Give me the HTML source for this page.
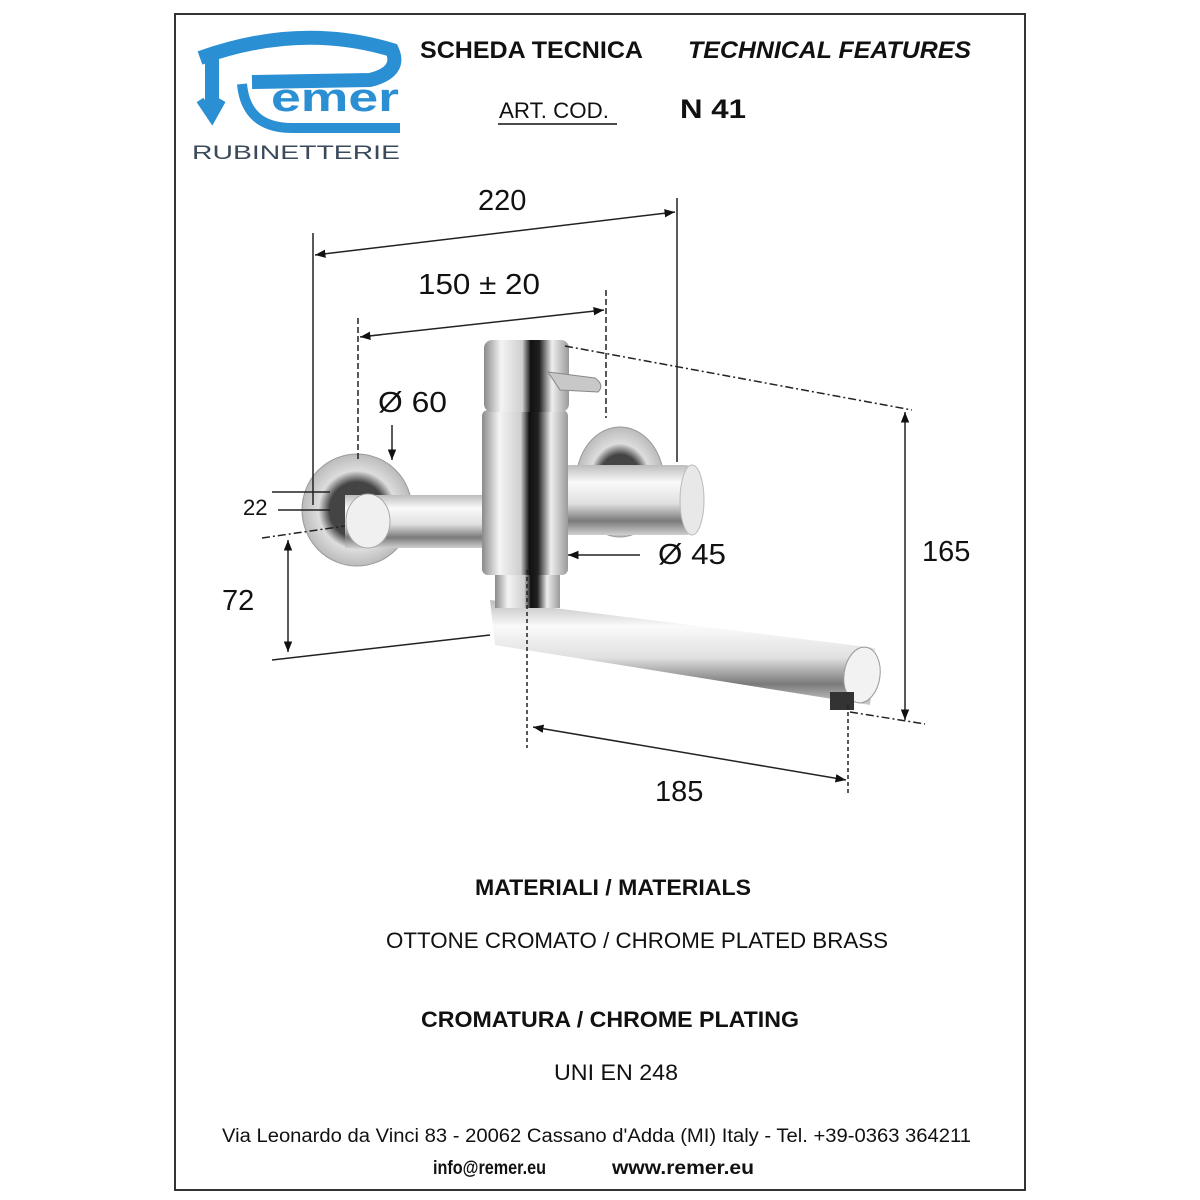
<!DOCTYPE html>
<html><head><meta charset="utf-8"><style>
html,body{margin:0;padding:0;background:#fff;}
svg{display:block;}
.c{font-family:"Liberation Sans",sans-serif;}
</style></head><body>
<svg width="1200" height="1200" viewBox="0 0 1200 1200" xmlns="http://www.w3.org/2000/svg" class="c">
<defs>
<linearGradient id="gv" x1="0" y1="0" x2="1" y2="0">
<stop offset="0" stop-color="#8a8a8a"/><stop offset="0.2" stop-color="#f4f4f4"/><stop offset="0.45" stop-color="#cfcfcf"/><stop offset="0.55" stop-color="#111"/><stop offset="0.65" stop-color="#202020"/><stop offset="0.8" stop-color="#eee"/><stop offset="1" stop-color="#9a9a9a"/>
</linearGradient>
<linearGradient id="gh" x1="0" y1="0" x2="0" y2="1">
<stop offset="0" stop-color="#bdbdbd"/><stop offset="0.25" stop-color="#fafafa"/><stop offset="0.55" stop-color="#e0e0e0"/><stop offset="0.8" stop-color="#7a7a7a"/><stop offset="1" stop-color="#cfcfcf"/>
</linearGradient>
<radialGradient id="gf" cx="0.5" cy="0.5" r="0.5">
<stop offset="0.5" stop-color="#444"/><stop offset="0.7" stop-color="#ddd"/><stop offset="1" stop-color="#bbb"/>
</radialGradient>
<marker id="a" viewBox="0 0 10 10" refX="10" refY="5" markerWidth="7" markerHeight="7" orient="auto-start-reverse"><path d="M0,1 L10,5 L0,9 z" fill="#111"/></marker>
</defs>
<rect x="175" y="14" width="850" height="1176" fill="none" stroke="#333" stroke-width="2"/>

<!-- logo -->
<g fill="none" stroke="#2b8fd4" stroke-linecap="butt">
<path d="M200,58 Q300,22 392,50 Q402,72 370,80 L252,82" stroke-width="14"/>
<path d="M212,58 L212,112" stroke-width="14"/>
<path d="M200,100 L212,118 L222,100" stroke-width="8"/>
<path d="M242,84 Q246,128 292,128 L400,128" stroke-width="10"/>
</g>
<text x="271" y="111" font-size="40" font-weight="bold" fill="#2b8fd4" textLength="128" lengthAdjust="spacingAndGlyphs">emer</text>
<text x="192" y="159" font-size="19" fill="#3a4a5a" textLength="208" lengthAdjust="spacingAndGlyphs">RUBINETTERIE</text>

<!-- header -->
<text x="420" y="58" font-size="24" font-weight="bold" fill="#111" textLength="223" lengthAdjust="spacingAndGlyphs">SCHEDA TECNICA</text>
<text x="688" y="58" font-size="24" font-weight="bold" font-style="italic" fill="#111" textLength="283" lengthAdjust="spacingAndGlyphs">TECHNICAL FEATURES</text>
<text x="499" y="118" font-size="22" fill="#111" textLength="110" lengthAdjust="spacingAndGlyphs">ART. COD.</text>
<line x1="498" y1="124" x2="617" y2="124" stroke="#111" stroke-width="1.5"/>
<text x="680" y="118" font-size="27" font-weight="bold" fill="#111" textLength="66" lengthAdjust="spacingAndGlyphs">N 41</text>

<!-- faucet -->
<g>
<ellipse cx="357" cy="510" rx="55" ry="56" fill="url(#gf)" stroke="#999"/>
<ellipse cx="620" cy="482" rx="44" ry="55" fill="url(#gf)" stroke="#999"/>
<rect x="560" y="465" width="135" height="70" rx="10" fill="url(#gh)"/>
<ellipse cx="692" cy="500" rx="12" ry="35" fill="#e8e8e8" stroke="#bbb"/>
<rect x="345" y="495" width="165" height="53" fill="url(#gh)"/>
<ellipse cx="368" cy="521" rx="22" ry="27" fill="#f0f0f0" stroke="#aaa"/>
<path d="M490,600 L875,648 L870,705 L495,645 Z" fill="url(#gh)"/>
<ellipse cx="862" cy="675" rx="18" ry="28" fill="#f2f2f2" stroke="#999" transform="rotate(8 862 675)"/>
<rect x="830" y="692" width="24" height="18" fill="#333"/>
<rect x="495" y="570" width="65" height="38" fill="url(#gv)"/>
<rect x="482" y="410" width="86" height="165" rx="6" fill="url(#gv)"/>
<rect x="484" y="340" width="85" height="72" rx="8" fill="url(#gv)"/>
<path d="M548,372 L595,378 Q605,385 598,392 L560,390 Z" fill="#c8c8c8" stroke="#888"/>
</g>

<!-- dimensions -->
<g stroke="#222" stroke-width="1.5" fill="none">
<line x1="313" y1="233" x2="313" y2="505"/>
<line x1="677" y1="198" x2="677" y2="462"/>
<line x1="315" y1="255" x2="675" y2="212" marker-start="url(#a)" marker-end="url(#a)"/>
<line x1="358" y1="318" x2="358" y2="462" stroke-dasharray="6,3"/>
<line x1="606" y1="290" x2="606" y2="418" stroke-dasharray="6,3"/>
<line x1="360" y1="337" x2="604" y2="310" marker-start="url(#a)" marker-end="url(#a)"/>
<line x1="392" y1="425" x2="392" y2="460" marker-end="url(#a)"/>
<line x1="272" y1="492" x2="330" y2="492"/>
<line x1="278" y1="510" x2="330" y2="510"/>
<line x1="262" y1="538" x2="345" y2="526" stroke-dasharray="8,3,2,3"/>
<line x1="288" y1="540" x2="288" y2="652" marker-start="url(#a)" marker-end="url(#a)"/>
<line x1="272" y1="660" x2="490" y2="635"/>
<line x1="640" y1="555" x2="568" y2="555" marker-end="url(#a)"/>
<line x1="565" y1="346" x2="912" y2="410" stroke-dasharray="8,3,2,3"/>
<line x1="905" y1="412" x2="905" y2="720" marker-start="url(#a)" marker-end="url(#a)"/>
<line x1="850" y1="712" x2="925" y2="724" stroke-dasharray="8,3,2,3"/>
<line x1="527" y1="570" x2="527" y2="748" stroke-dasharray="4,3"/>
<line x1="848" y1="705" x2="848" y2="795" stroke-dasharray="4,3"/>
<line x1="533" y1="727" x2="846" y2="780" marker-start="url(#a)" marker-end="url(#a)"/>
</g>
<g fill="#111" font-size="29">
<text x="478" y="210">220</text>
<text x="418" y="294" textLength="122" lengthAdjust="spacingAndGlyphs">150 ± 20</text>
<text x="378" y="412" textLength="69" lengthAdjust="spacingAndGlyphs">Ø 60</text>
<text x="243" y="515" font-size="22">22</text>
<text x="222" y="610">72</text>
<text x="658" y="564" textLength="68" lengthAdjust="spacingAndGlyphs">Ø 45</text>
<text x="922" y="561">165</text>
<text x="655" y="801">185</text>
</g>

<!-- bottom text -->
<g fill="#111">
<text x="613" y="895" font-size="22" font-weight="bold" text-anchor="middle" textLength="276" lengthAdjust="spacingAndGlyphs">MATERIALI / MATERIALS</text>
<text x="386" y="948" font-size="22" textLength="502" lengthAdjust="spacingAndGlyphs">OTTONE CROMATO / CHROME PLATED BRASS</text>
<text x="610" y="1027" font-size="22" font-weight="bold" text-anchor="middle" textLength="378" lengthAdjust="spacingAndGlyphs">CROMATURA / CHROME PLATING</text>
<text x="616" y="1080" font-size="22" text-anchor="middle" textLength="124" lengthAdjust="spacingAndGlyphs">UNI EN 248</text>
<text x="222" y="1142" font-size="19" textLength="749" lengthAdjust="spacingAndGlyphs">Via Leonardo da Vinci 83 - 20062 Cassano d'Adda (MI) Italy - Tel. +39-0363 364211</text>
<text x="433" y="1174" font-size="19" font-weight="bold" textLength="113" lengthAdjust="spacingAndGlyphs">info@remer.eu</text>
<text x="612" y="1174" font-size="19" font-weight="bold" textLength="142" lengthAdjust="spacingAndGlyphs">www.remer.eu</text>
</g>
</svg>
</body></html>
